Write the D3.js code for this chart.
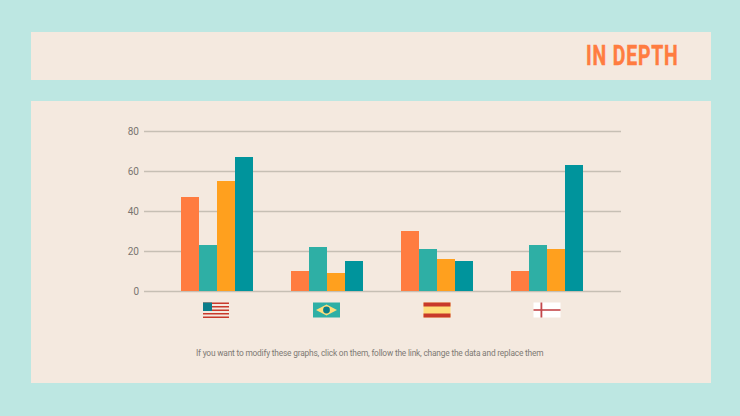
<!DOCTYPE html>
<html><head><meta charset="utf-8">
<script src="https://cdn.jsdelivr.net/npm/d3@7"></script>
<style>html,body{margin:0;padding:0;background:#bde7e2;overflow:hidden}svg{display:block}</style>
</head><body><svg id="c" width="740" height="416"></svg>
<script>
const categories = ["USA","Brazil","Spain","England"];
const seriesA = [47,10,30,10];
const seriesB = [23,22,21,23];
const seriesC = [55,9,16,21];
const seriesD = [67,15,15,63];
const yTicks = [0,20,40,60,80];
const seriesColors = ["#ff7c40","#2eafa5","#ffa01e","#00949c"];
const titleText = "IN DEPTH";
const noteText = "If you want to modify these graphs, click on them, follow the link, change the data and replace them";

const svg = d3.select("#c");
const bg = "#f4e9df";
svg.append("rect").attr("width",740).attr("height",416).attr("fill","#bde7e2");
svg.append("rect").attr("x",31).attr("y",32).attr("width",680).attr("height",48).attr("fill",bg);
svg.append("rect").attr("x",31).attr("y",101).attr("width",680).attr("height",282).attr("fill",bg);

svg.append("text").attr("transform","translate(586,65) scale(0.68,1)").attr("font-family","Roboto").attr("font-weight",700)
  .attr("font-size",28.5).attr("fill","#ff7c40").attr("stroke","#ff7c40").attr("stroke-width",0.5)
  .attr("textLength",135).attr("lengthAdjust","spacing").text(titleText);

const x = d3.scaleBand().domain(categories).range([162,602]);
const y = d3.scaleLinear().domain([0,80]).range([291,131]);
const inner = d3.scaleBand().domain(d3.range(4)).range([x.bandwidth()/2-36,x.bandwidth()/2+36]);

const axis = svg.append("g").attr("transform","translate(144,0)")
  .call(d3.axisLeft(y).tickValues(yTicks).tickSize(-477).tickPadding(5));
axis.select(".domain").remove();
axis.selectAll("line").attr("stroke","#c6bfb4").attr("stroke-width",1.4);
axis.selectAll("text").attr("font-family","Roboto").attr("font-size",10).attr("fill","#7a7570").attr("x",-5);

const series = [seriesA,seriesB,seriesC,seriesD];
series.forEach((vals,s)=>{
  svg.append("g").selectAll("rect").data(vals).join("rect")
    .attr("x",(d,i)=>x(categories[i])+inner(s))
    .attr("y",d=>y(d)).attr("width",inner.bandwidth())
    .attr("height",d=>y(0)-y(d)).attr("fill",seriesColors[s]);
});

// flags, centred under each group
const red="#c8392b", yellow="#ffdd7a", teal="#2eafa5", dark="#0b7d8a";
const flags = svg.append("g").selectAll("g").data(categories).join("g")
  .attr("transform",d=>`translate(${x(d)+x.bandwidth()/2},310)`);
flags.each(function(name){
  const g=d3.select(this);
  const r=(a,b,w,h,f)=>g.append("rect").attr("x",a).attr("y",b).attr("width",w).attr("height",h).attr("fill",f);
  if(name==="USA"){
    r(-14,-7.5,26,15,"#f4e9df");
    d3.range(5).forEach(i=>r(-14,-7.5+i*3.5,26,1.5,red));
    r(-14,-7.5,9,8.5,dark);
  } else if(name==="Brazil"){
    r(-14,-7.5,27,15,teal);
    g.append("path").attr("d","M-11,0 L-0.5,-5.5 L10,0 L-0.5,5.5Z").attr("fill",yellow);
    g.append("circle").attr("cx",-0.5).attr("cy",0).attr("r",3.4).attr("fill",dark);
  } else if(name==="Spain"){
    r(-13.5,-7.5,27,15,yellow);
    r(-13.5,-7.5,27,4,red); r(-13.5,3.5,27,4,red);
  } else {
    r(-13.5,-7.5,27,15,"#ffffff");
    r(-13.5,-0.8,27,1.6,"#c4474a");
    r(-6.5,-7.5,1.8,15,"#c4474a");
  }
});

svg.append("text").attr("transform","translate(196,356) scale(0.88,1)").attr("font-family","Roboto").attr("font-size",9.5)
  .attr("fill","#7e7974").attr("textLength",395).attr("lengthAdjust","spacing").text(noteText);
</script></body></html>
